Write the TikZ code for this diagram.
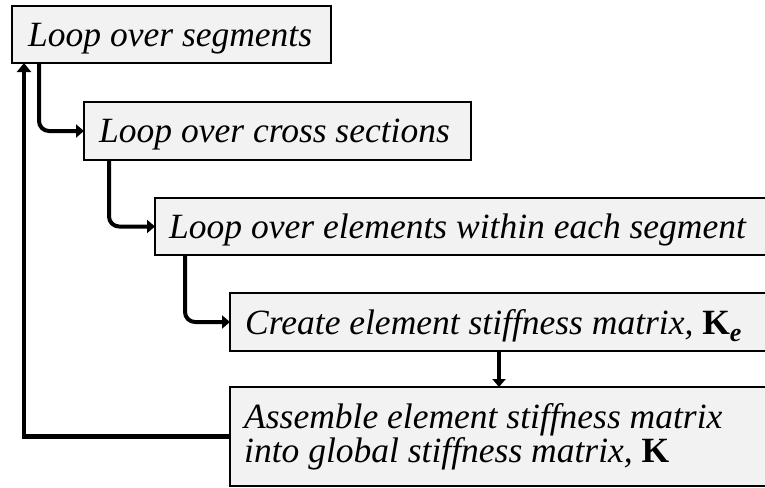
\documentclass[tikz,border=0pt]{standalone}
\usepackage{fontspec}
\setmainfont{Liberation Serif}
\usetikzlibrary{arrows.meta,calc}
\definecolor{boxfill}{RGB}{242,242,242}
\tikzset{
  box/.style={draw=black, line width=1.9pt, fill=boxfill, anchor=north west, inner sep=0pt, outer sep=0pt},
  lbl/.style={anchor=base west, inner sep=0pt, font=\fontsize{35.5}{37}\selectfont\itshape},
  conn/.style={line width=4pt, -{Triangle[length=8pt,width=13pt]}},
  back/.style={line width=4.7pt, -{Triangle[length=9pt,width=14pt]}}
}
\newcommand{\Kbold}{\textbf{\upshape K}}
\begin{document}
\begin{tikzpicture}[x=1pt,y=-1pt]
\useasboundingbox (0,0) rectangle (765,487);
\clip (0,0) rectangle (765,487);
\node[box, minimum width=319pt, minimum height=57pt] (b1) at (12,6) {};
\node[box, minimum width=387pt, minimum height=58pt] (b2) at (84,102) {};
\node[box, minimum width=620pt, minimum height=57pt] (b3) at (155,198) {};
\node[box, minimum width=545pt, minimum height=58pt] (b4) at (230,293) {};
\node[box, minimum width=545pt, minimum height=99pt] (b5) at (230,387) {};

\node[lbl] (t1) at (28,47) {Loop over segments};
\node[lbl] (t2) at (99,142) {Loop over cross sections};
\node[lbl] (t3) at (169,238) {Loop over elements within each segment};
\node[lbl] (t4) at (245,334) {Create element stiffness matrix, \Kbold\raisebox{-0.22em}{\fontsize{26}{26}\selectfont\bfseries\itshape e}};
\node[lbl] (t5) at (244,428) {Assemble element stiffness matrix};
\node[lbl] (t6) at (244,462) {into global stiffness matrix, \Kbold};

\draw[conn, rounded corners=10pt] ($(b1.south west)+(27,0)$) |- (b2.west);
\draw[conn, rounded corners=10pt] ($(b2.south west)+(25,0)$) |- (b3.west);
\draw[conn, rounded corners=10pt] ($(b3.south west)+(30,0)$) |- (b4.west);
\draw[conn] ($(b4.south west)+(269,0)$) -- ($(b5.north west)+(269,0)$);
\draw[back] (b5.west) -| ($(b1.south west)+(12,0)$);
\end{tikzpicture}
\end{document}
